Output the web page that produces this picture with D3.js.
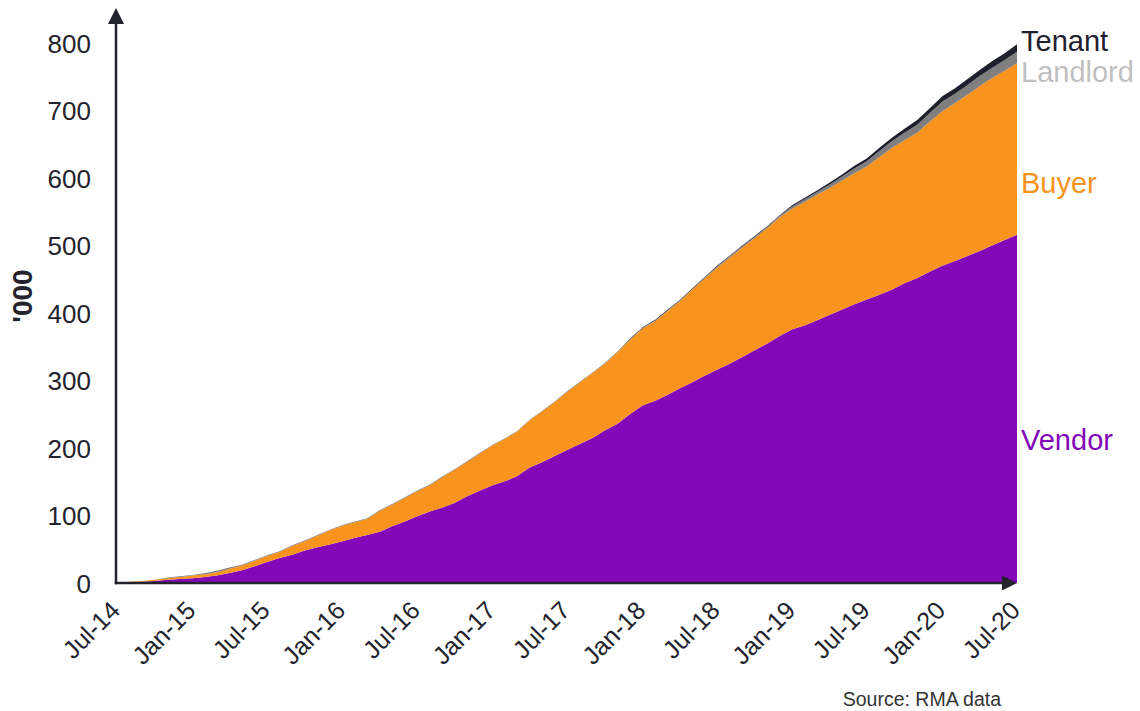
<!DOCTYPE html>
<html>
<head>
<meta charset="utf-8">
<script src="https://cdn.jsdelivr.net/npm/d3@7/dist/d3.min.js"></script>
<style>
  html, body { margin: 0; padding: 0; background: #ffffff; }
  svg { display: block; font-family: "Liberation Sans", Arial, sans-serif; }
</style>
</head>
<body>
<svg id="chart" width="1140" height="711"></svg>
<script>
// ---- Data (thousands, cumulative, monthly Jul-14 .. Jul-20) ----
const startMonth = [2014, 6]; // Jul 2014 (JS month index)
const vendor = [0,1,2,3,5,6,7,9,11,15,19,25,31,37,42,48,53,57,62,67,71,76,84,91,99,106,112,119,129,137,145,151,158,171,179,188,197,206,215,226,236,250,263,270,278,288,297,307,316,325,335,345,355,366,376,382,389,397,405,413,420,427,435,444,452,461,470,477,484,492,500,508,516];
const buyer = [0,1,1,2,2,3,4,4,5,6,7,8,9,9,13,14,17,21,23,23,24,31,32,35,37,39,45,49,51,55,59,63,66,70,75,80,86,91,96,99,106,110,114,118,124,129,137,144,151,157,162,166,171,176,179,183,186,188,191,194,197,204,210,212,215,222,229,234,239,244,248,251,254];
const landlord = [0,0,0,0,1,1,1,2,2,2,1,1,1,1,1,1,1,1,1,1,1,1,1,1,1,1,1,1,1,1,1,1,1,1,1,1,1,1,1,1,1,1,1,1,1,1,1,1,2,2,2,2,2,2,3,4,4,5,6,7,8,9,10,11,12,13,14,14,14,15,15,16,17];
const tenant = [0,0,0,0,0,0,0,0,0,0,0,0,0,0,0,0,0,0,0,0,0,0,0,0,0,0,0,0,0,0,0,0,0,0,0,0,0,0,0,0,0,1,1,1,1,1,1,1,1,1,1,1,1,1,2,2,2,3,3,4,4,5,5,6,7,7,8,8,9,9,10,10,11];
const seriesNames = ["Vendor", "Buyer", "Landlord", "Tenant"];
const seriesColors = ["#8208b8", "#f8931d", "#7f7f7f", "#1f202e"];
const labelColors = ["#8208b8", "#f8931d", "#bfbfbf", "#1f202e"];
const labelValues = [212, 593, 757, 803];
const xTickLabels = ["Jul-14","Jan-15","Jul-15","Jan-16","Jul-16","Jan-17","Jul-17","Jan-18","Jul-18","Jan-19","Jul-19","Jan-20","Jul-20"];
const yTicks = [0,100,200,300,400,500,600,700,800];
const yTitle = "'000";
const sourceText = "Source: RMA data";

// ---- Build rows ----
const rows = vendor.map((v, i) => ({
  date: new Date(startMonth[0], startMonth[1] + i, 1),
  Vendor: v, Buyer: buyer[i], Landlord: landlord[i], Tenant: tenant[i]
}));

const svg = d3.select("#chart");
const x0 = 116, x1 = 1017, yBase = 583, yTop = 43;
const x = d3.scaleTime()
  .domain([rows[0].date, rows[rows.length - 1].date])
  .range([x0 + 1, x1]);
const y = d3.scaleLinear().domain([0, 800]).range([yBase, yTop]);

const stack = d3.stack().keys(seriesNames);
const layers = stack(rows);

const area = d3.area()
  .x(d => x(d.data.date))
  .y0(d => y(d[0]))
  .y1(d => y(d[1]))
  .curve(d3.curveLinear);

svg.append("g").selectAll("path")
  .data(layers)
  .join("path")
  .attr("d", area)
  .attr("fill", (d, i) => seriesColors[i]);

// ---- Axes ----
const axisColor = "#22232d";
const textColor = "#22232d";

// y tick labels
const yAxis = d3.axisLeft(y).tickValues(yTicks).tickSize(0).tickPadding(0);
const gy = svg.append("g").attr("transform", `translate(91,0)`).call(yAxis);
gy.select(".domain").remove();
gy.selectAll("text")
  .attr("fill", textColor)
  .style("font-size", "26px")
  .style("font-family", "'Liberation Sans', Arial, sans-serif")
  .attr("dy", "0.35em");

// x tick labels
const tickDates = xTickLabels.map((t, i) => new Date(startMonth[0], startMonth[1] + i * 6, 1));
const xAxis = d3.axisBottom(x).tickValues(tickDates).tickSize(0).tickFormat((d, i) => xTickLabels[i]);
const gx = svg.append("g").attr("transform", `translate(0,${yBase})`).call(xAxis);
gx.select(".domain").remove();
gx.selectAll("text")
  .attr("fill", textColor)
  .style("font-size", "25px")
  .style("font-family", "'Liberation Sans', Arial, sans-serif")
  .attr("text-anchor", "end")
  .attr("dy", null)
  .attr("y", 0)
  .attr("transform", "translate(-9,16) rotate(-45)")
  .attr("dominant-baseline", "hanging");

// axis lines with arrows
svg.append("line")
  .attr("x1", x0).attr("y1", yBase + 1.2)
  .attr("x2", x0).attr("y2", 20)
  .attr("stroke", axisColor).attr("stroke-width", 2.5);
svg.append("path")
  .attr("d", `M${x0},8 L${x0 - 8},24 L${x0 + 8},24 Z`)
  .attr("fill", axisColor);
svg.append("line")
  .attr("x1", x0 - 1.2).attr("y1", yBase)
  .attr("x2", 1004).attr("y2", yBase)
  .attr("stroke", axisColor).attr("stroke-width", 2.5);
svg.append("path")
  .attr("d", `M1017,${yBase} L1002,${yBase - 7.5} L1002,${yBase + 7.5} Z`)
  .attr("fill", axisColor);

// y title
svg.append("text")
  .attr("transform", "translate(32,296) rotate(-90)")
  .attr("text-anchor", "middle")
  .attr("fill", textColor)
  .style("font-size", "28px")
  .style("font-weight", "bold")
  .text(yTitle);

// series labels at right
seriesNames.forEach((name, i) => {
  svg.append("text")
    .attr("x", 1021)
    .attr("y", y(labelValues[i]))
    .attr("dy", "0.35em")
    .attr("fill", labelColors[i])
    .style("font-size", "29px")
    .text(name);
});

// source
svg.append("text")
  .attr("x", 1001).attr("y", 706)
  .attr("text-anchor", "end")
  .attr("fill", "#333333")
  .style("font-size", "19.5px")
  .text(sourceText);
</script>
</body>
</html>
